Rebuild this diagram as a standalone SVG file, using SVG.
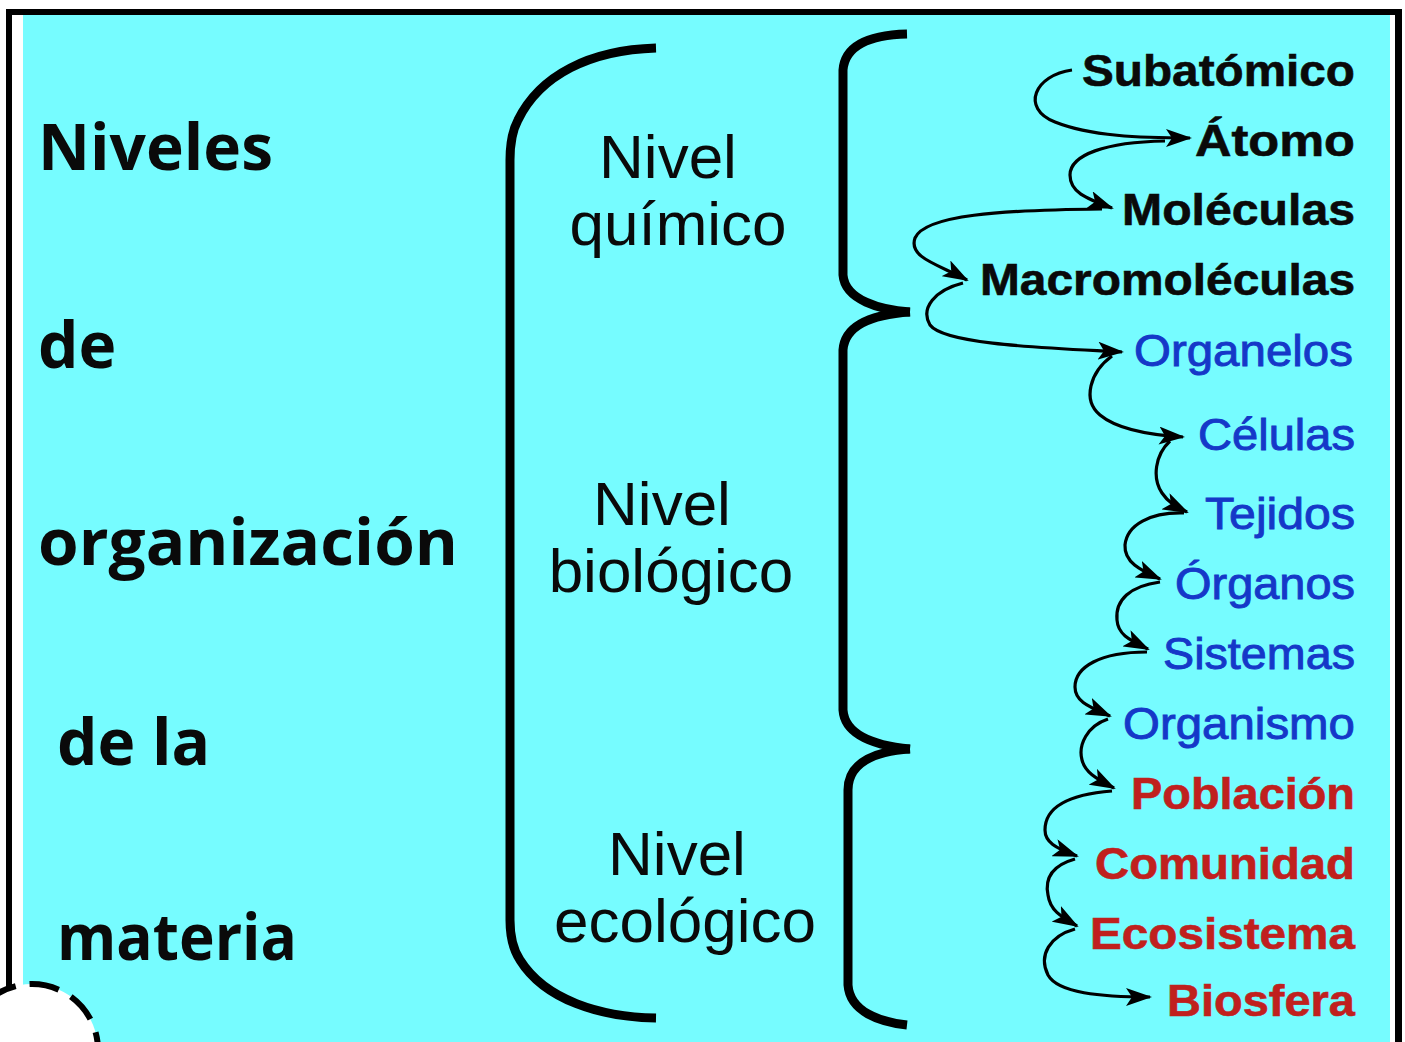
<svg xmlns="http://www.w3.org/2000/svg" width="1405" height="1042" viewBox="0 0 1405 1042">
<defs>
<style>
.big{font-family:"Open Sans","Liberation Sans",sans-serif;font-weight:bold;font-size:64px;fill:#0a0a0a}
.mid{font-family:"Liberation Sans",Arial,sans-serif;font-size:62px;fill:#0a0a0a;text-anchor:middle}
.lv{font-family:"Liberation Sans",Arial,sans-serif;font-size:44px;text-anchor:end}
.k{font-weight:bold;fill:#0a0a0a;stroke:#0a0a0a;stroke-width:0.6}
.b{fill:#1538c8;stroke:#1538c8;stroke-width:0.9;font-size:45px}
.r{font-weight:bold;fill:#c0201e;stroke:#c0201e;stroke-width:0.6}
.brace{fill:none;stroke:#000;stroke-width:9;stroke-linecap:butt}
.conn path{fill:none;stroke:#000;stroke-width:3.2}
</style>
<marker id="ah" markerUnits="userSpaceOnUse" markerWidth="26" markerHeight="18" refX="24" refY="9" orient="auto">
<path d="M0,0 L26,9 L0,18 L6,9 Z" fill="#000"/>
</marker>
</defs>
<rect width="1405" height="1042" fill="#fff"/>
<rect x="12" y="15" width="1383" height="1027" fill="#76fcff"/>
<rect x="12" y="15" width="11" height="1027" fill="#fff"/>
<rect x="1390" y="15" width="5" height="1027" fill="#fff"/>
<rect x="6" y="9" width="1396" height="6" fill="#000"/>
<rect x="6" y="9" width="6" height="1033" fill="#000"/>
<rect x="1395" y="9" width="7" height="1033" fill="#000"/>

<g id="title">
<text class="big" x="38" y="170">Niveles</text>
<text class="big" x="38" y="368">de</text>
<text class="big" x="38" y="565" textLength="420" lengthAdjust="spacingAndGlyphs">organización</text>
<text class="big" x="57" y="765">de la</text>
<text class="big" x="57" y="960" textLength="240" lengthAdjust="spacingAndGlyphs">materia</text>
</g>

<g id="bracket-main"><path class="brace" d="M656,48 C590,50 540,75 518,120 Q510,135 510,160 L510,920 Q510,945 520,960 C545,1000 600,1017 656,1018"/></g>

<g id="nivel-quimico"><text class="mid" x="668" y="178">Nivel</text><text class="mid" x="678" y="245">químico</text></g>
<g id="nivel-biologico"><text class="mid" x="662" y="525">Nivel</text><text class="mid" x="671" y="592">biológico</text></g>
<g id="nivel-ecologico"><text class="mid" x="677" y="875">Nivel</text><text class="mid" x="685" y="942">ecológico</text></g>

<g id="brace-quimico"><path class="brace" d="M907,34 C870,35 845,45 843,70 L843,275 C845,300 880,310 910,312"/></g>
<g id="brace-biologico"><path class="brace" d="M910,312 C880,314 845,322 843,350 L843,710 C845,738 880,746 910,749"/></g>
<g id="brace-ecologico"><path class="brace" d="M910,749 C880,751 848,760 848,790 L848,985 C850,1012 880,1022 907,1025"/></g>

<g id="levels">
<g id="n-subatomico"><text class="lv k" x="1355" y="86" textLength="273" lengthAdjust="spacingAndGlyphs">Subatómico</text></g>
<g id="n-atomo"><text class="lv k" x="1355" y="156" textLength="160" lengthAdjust="spacingAndGlyphs">Átomo</text></g>
<g id="n-moleculas"><text class="lv k" x="1355" y="225" textLength="233" lengthAdjust="spacingAndGlyphs">Moléculas</text></g>
<g id="n-macromoleculas"><text class="lv k" x="1355" y="295" textLength="375" lengthAdjust="spacingAndGlyphs">Macromoléculas</text></g>
<g id="n-organelos"><text class="lv b" x="1353" y="366" textLength="219" lengthAdjust="spacingAndGlyphs">Organelos</text></g>
<g id="n-celulas"><text class="lv b" x="1355" y="450" textLength="157" lengthAdjust="spacingAndGlyphs">Células</text></g>
<g id="n-tejidos"><text class="lv b" x="1355" y="529" textLength="150" lengthAdjust="spacingAndGlyphs">Tejidos</text></g>
<g id="n-organos"><text class="lv b" x="1355" y="599" textLength="180" lengthAdjust="spacingAndGlyphs">Órganos</text></g>
<g id="n-sistemas"><text class="lv b" x="1355" y="669" textLength="192" lengthAdjust="spacingAndGlyphs">Sistemas</text></g>
<g id="n-organismo"><text class="lv b" x="1355" y="739" textLength="232" lengthAdjust="spacingAndGlyphs">Organismo</text></g>
<g id="n-poblacion"><text class="lv r" x="1355" y="809" textLength="224" lengthAdjust="spacingAndGlyphs">Población</text></g>
<g id="n-comunidad"><text class="lv r" x="1355" y="879" textLength="260" lengthAdjust="spacingAndGlyphs">Comunidad</text></g>
<g id="n-ecosistema"><text class="lv r" x="1355" y="949" textLength="265" lengthAdjust="spacingAndGlyphs">Ecosistema</text></g>
<g id="n-biosfera"><text class="lv r" x="1355" y="1016" textLength="188" lengthAdjust="spacingAndGlyphs">Biosfera</text></g>
</g>

<g id="connectors" class="conn">
<path marker-end="url(#ah)" d="M1072,70 C1035,75 1020,108 1055,122 C1090,136 1140,138 1190,138"/>
<path marker-end="url(#ah)" d="M1165,141 C1105,142 1070,155 1070,175 C1070,192 1085,198 1112,208"/>
<path marker-end="url(#ah)" d="M1102,209 C1000,210 925,215 915,238 C908,258 940,265 967,280"/>
<path marker-end="url(#ah)" d="M963,283 C935,290 920,308 930,325 C945,345 1050,348 1122,352"/>
<path marker-end="url(#ah)" d="M1112,356 C1090,372 1082,400 1100,415 C1118,430 1150,435 1183,437"/>
<path marker-end="url(#ah)" d="M1170,441 C1155,455 1152,478 1162,493 C1168,502 1175,506 1187,512"/>
<path marker-end="url(#ah)" d="M1184,513 C1150,512 1127,525 1125,545 C1124,562 1140,570 1160,579"/>
<path marker-end="url(#ah)" d="M1160,582 C1130,586 1115,600 1117,620 C1118,635 1130,640 1148,649"/>
<path marker-end="url(#ah)" d="M1147,652 C1100,652 1075,667 1075,687 C1075,702 1090,707 1110,716"/>
<path marker-end="url(#ah)" d="M1108,719 C1087,726 1078,745 1082,760 C1085,772 1095,778 1114,788"/>
<path marker-end="url(#ah)" d="M1112,791 C1062,795 1045,810 1045,830 C1045,842 1055,848 1077,856"/>
<path marker-end="url(#ah)" d="M1075,859 C1050,866 1045,880 1048,895 C1050,910 1060,916 1077,926"/>
<path marker-end="url(#ah)" d="M1075,929 C1050,936 1038,955 1048,975 C1058,993 1100,997 1150,997"/>
</g>

<g id="corner-circle"><circle cx="32" cy="1050" r="66" fill="#fff" stroke="#000" stroke-width="6" stroke-dasharray="30,14"/></g>
</svg>
